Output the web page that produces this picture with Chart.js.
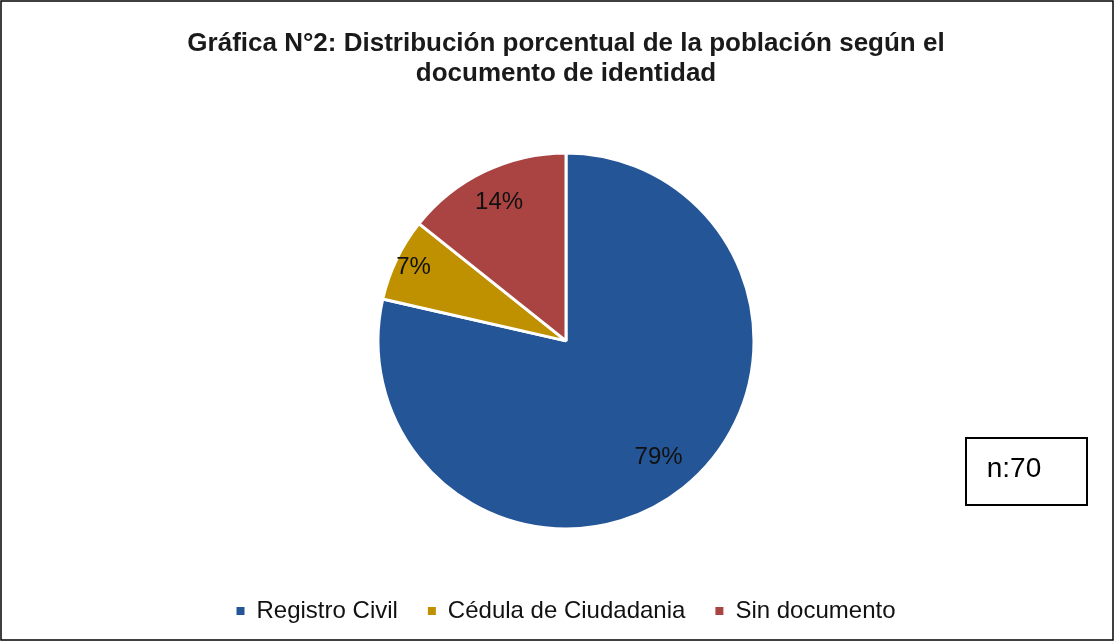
<!DOCTYPE html>
<html>
<head>
<meta charset="utf-8">
<script src="https://cdn.jsdelivr.net/npm/chart.js@4/dist/chart.umd.min.js"></script>
<style>
    html, body { margin: 0; padding: 0; background: #ffffff; }
    #wrap { width: 1114px; height: 641px; }
</style>
</head>
<body>
<div id="wrap"><canvas id="myChart" width="1114" height="641"></canvas></div>
<script>
const categories = ['Registro Civil', 'Cédula de Ciudadania', 'Sin documento'];
const counts = [55, 5, 10];
const percentLabels = ['79%', '7%', '14%'];
const sliceColors = ['#245597', '#BF9000', '#A94442'];
const sampleSize = 'n:70';

const FONT = "'Liberation Sans', Arial, sans-serif";

// percentages written inside the slices
const sliceLabels = {
    id: 'sliceLabels',
    afterDatasetsDraw(chart) {
        const ctx = chart.ctx;
        const arcs = chart.getDatasetMeta(0).data;
        const reach = [0.79, 0.9, 0.82]; // how far out each label sits, fraction of radius
        ctx.save();
        ctx.font = '24px ' + FONT;
        ctx.fillStyle = '#111111';
        ctx.textAlign = 'center';
        ctx.textBaseline = 'middle';
        arcs.forEach((arc, i) => {
            const p = arc.getProps(['x', 'y', 'startAngle', 'endAngle', 'outerRadius']);
            const mid = (p.startAngle + p.endAngle) / 2;
            const d = p.outerRadius * reach[i];
            ctx.fillText(percentLabels[i], p.x + Math.cos(mid) * d, p.y + Math.sin(mid) * d);
        });
        ctx.restore();
    }
};

// outer frame and the n box
const frame = {
    id: 'frame',
    afterDraw(chart) {
        const ctx = chart.ctx;
        ctx.save();
        ctx.strokeStyle = '#000000';
        ctx.lineWidth = 1.5;
        ctx.strokeRect(1, 1, chart.width - 2, chart.height - 2);
        ctx.lineWidth = 2;
        ctx.strokeRect(966, 438, 121, 67);
        ctx.font = '28px ' + FONT;
        ctx.fillStyle = '#000000';
        ctx.textAlign = 'center';
        ctx.textBaseline = 'middle';
        ctx.fillText(sampleSize, 1014, 469);
        ctx.restore();
    }
};

const ctx = document.getElementById('myChart');
const myChart = new Chart(ctx, {
    type: 'pie',
    data: {
        labels: categories,
        datasets: [{
            data: counts,
            backgroundColor: sliceColors,
            borderColor: '#ffffff',
            borderWidth: 3,
            radius: 188
        }]
    },
    options: {
        responsive: false,
        animation: false,
        layout: {
            padding: { left: 18, right: 0, top: 0, bottom: 8 }
        },
        plugins: {
            title: {
                display: true,
                text: ['Gráfica N°2: Distribución porcentual de la población según el', 'documento de identidad'],
                color: '#1a1a1a',
                font: { family: FONT, size: 26, weight: 'bold', lineHeight: 1.15 },
                padding: { top: 29, bottom: 24 }
            },
            legend: {
                position: 'bottom',
                labels: {
                    color: '#111111',
                    font: { family: FONT, size: 24 },
                    boxWidth: 8,
                    boxHeight: 8,
                    padding: 30,
                    generateLabels(chart) {
                        const base = Chart.overrides.pie.plugins.legend.labels.generateLabels(chart);
                        return base.map(l => Object.assign(l, { lineWidth: 0, strokeStyle: 'rgba(0,0,0,0)' }));
                    }
                }
            },
            tooltip: { enabled: false }
        }
    },
    plugins: [sliceLabels, frame]
});
</script>
</body>
</html>
